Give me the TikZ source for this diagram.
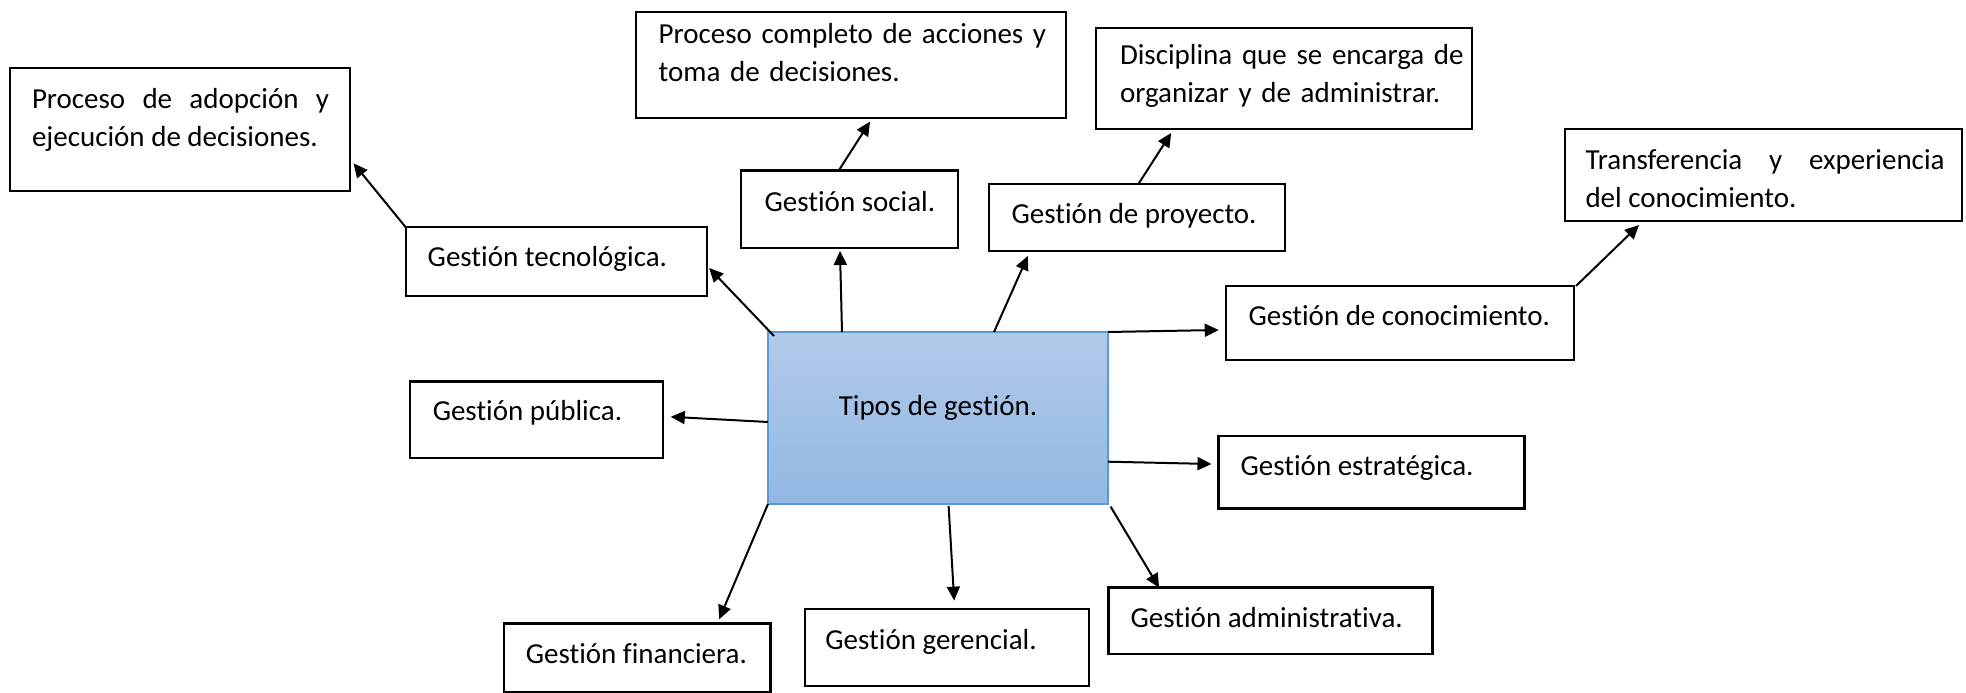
\documentclass[tikz,border=0pt]{standalone}
\usepackage{fontspec}
\setmainfont{Carlito}[Ligatures=CommonOff]
\setlength{\parindent}{0pt}
\usetikzlibrary{arrows.meta}
\definecolor{tiptop}{RGB}{177,202,234}
\definecolor{tipbot}{RGB}{146,184,227}
\definecolor{tipedge}{RGB}{91,155,213}
\tikzset{
  box/.style={draw=black,line width=1.2bp,inner sep=0pt,outer sep=0pt},
  lbl/.style={anchor=base west,inner sep=0pt},
}
\begin{document}
\begin{tikzpicture}[>={Triangle[length=7bp,width=6.5bp]},line join=miter,line width=1bp,font=\fontsize{14.5bp}{19bp}\selectfont]
\useasboundingbox (0bp,0bp) rectangle (983bp,346.5bp);
%%
\node (node_ctr) at (469bp,137.5bp) [minimum width=170bp,minimum height=86bp,inner sep=0pt,outer sep=0pt,top color=tiptop,bottom color=tipbot,draw=tipedge,line width=0.75bp,label={[anchor=base,inner sep=0pt,yshift=-41.85bp]north:Tipos de gestión.}] {};
%
\node (node_adopt) at (90bp,281.75bp) [box,minimum width=170bp,minimum height=61.5bp,label={[lbl,xshift=10.5bp,yshift=-20.25bp,text width=148.5bp,align=justify]north west:Proceso de adopción y\linebreak ejecución de decisiones.}] {};
  \node (node_compl) at (425.5bp,314bp) [box,minimum width=215bp,minimum height=53bp,label={[lbl,xshift=10.85bp,yshift=-16bp,text width=204bp,align=left]north west:Proceso completo de acciones y\\toma de decisiones.}] {};
  \node (node_disc) at (642bp,307.25bp) [box,minimum width=188bp,minimum height=50.5bp,label={[lbl,xshift=11.5bp,yshift=-18.2bp,text width=172bp,align=left]north west:Disciplina que se encarga de\\organizar y de administrar.}] {};
  \node (node_transf) at (881.75bp,259bp) [box,minimum width=198.5bp,minimum height=46bp,label={[lbl,xshift=9.75bp,yshift=-20.15bp,text width=179.5bp,align=justify]north west:Transferencia y experiencia\linebreak del conocimiento.}] {};
%
\node (node_tec) at (278.1bp,215.7bp) [box,minimum width=150.5bp,minimum height=34.35bp,label={[lbl,xshift=10.5bp,yshift=-19.4bp]north west:Gestión tecnológica.}] {};
  \node (node_soc) at (424.75bp,241.9bp) [box,minimum width=108.5bp,minimum height=38.75bp,label={[lbl,xshift=11.3bp,yshift=-20.5bp]north west:Gestión social.}] {};
  \node (node_proj) at (568.5bp,237.75bp) [box,minimum width=148bp,minimum height=33.5bp,label={[lbl,xshift=10.8bp,yshift=-20bp]north west:Gestión de proyecto.}] {};
  \node (node_conoc) at (700bp,185bp) [box,minimum width=174bp,minimum height=37bp,label={[lbl,xshift=10.8bp,yshift=-20bp]north west:Gestión de conocimiento.}] {};
  \node (node_pub) at (268.2bp,136.5bp) [box,minimum width=126.35bp,minimum height=38.3bp,label={[lbl,xshift=10.85bp,yshift=-19.6bp]north west:Gestión pública.}] {};
  \node (node_estr) at (685.8bp,110.4bp) [box,minimum width=153bp,minimum height=36.15bp,label={[lbl,xshift=10.5bp,yshift=-19.5bp]north west:Gestión estratégica.}] {};
  \node (node_admin) at (635.3bp,36bp) [box,minimum width=162bp,minimum height=33.3bp,label={[lbl,xshift=10.5bp,yshift=-20bp]north west:Gestión administrativa.}] {};
  \node (node_ger) at (473.4bp,22.7bp) [box,minimum width=142bp,minimum height=38.35bp,label={[lbl,xshift=9.8bp,yshift=-20bp]north west:Gestión gerencial.}] {};
  \node (node_fin) at (318.55bp,17.65bp) [box,minimum width=133.3bp,minimum height=34bp,label={[lbl,xshift=10.5bp,yshift=-19.9bp]north west:Gestión financiera.}] {};
%
\draw [black,->] ([xshift=3bp,yshift=-2bp]node_ctr.north west) -- ([xshift=1.2bp,yshift=-3.2bp]node_tec.east);
  \draw [black,->] ([xshift=37bp]node_ctr.north west) -- ([xshift=-4.75bp,yshift=-1.5bp]node_soc.south);
  \draw [black,->] ([xshift=28bp]node_ctr.north) -- ([xshift=19.4bp,yshift=-2.5bp]node_proj.south west);
  \draw [black,->] (node_ctr.north east) -- ([xshift=-3.65bp,yshift=-3.5bp]node_conoc.west);
  \draw [black,->] ([yshift=-2bp]node_ctr.west) -- ([xshift=4bp,yshift=1.6bp]node_pub.east);
  \draw [black,->] ([yshift=-21.85bp]node_ctr.east) -- ([xshift=-3.55bp,yshift=4.1bp]node_estr.west);
  \draw [black,->] ([xshift=1.3bp,yshift=-1.3bp]node_ctr.south east) -- ([xshift=25.25bp]node_admin.north west);
  \draw [black,->] ([xshift=5.3bp,yshift=-1bp]node_ctr.south) -- ([xshift=3.7bp,yshift=4.3bp]node_ger.north);
  \draw [black,->] (node_ctr.south west) -- ([xshift=41bp,yshift=2.2bp]node_fin.north);
%
\draw [black,->] (node_tec.north west) -- ([xshift=1.75bp,yshift=-47.65bp]node_adopt.north east);
  \draw [black,->] ([xshift=48.9bp]node_soc.north west) -- ([xshift=117bp,yshift=-1.8bp]node_compl.south west);
  \draw [black,->] ([xshift=74.7bp]node_proj.north west) -- ([xshift=37.6bp,yshift=-2bp]node_disc.south west);
  \draw [black,->] ([xshift=1bp]node_conoc.north east) -- ([xshift=37bp,yshift=-2bp]node_transf.south west);
%
\end{tikzpicture}
\end{document}
